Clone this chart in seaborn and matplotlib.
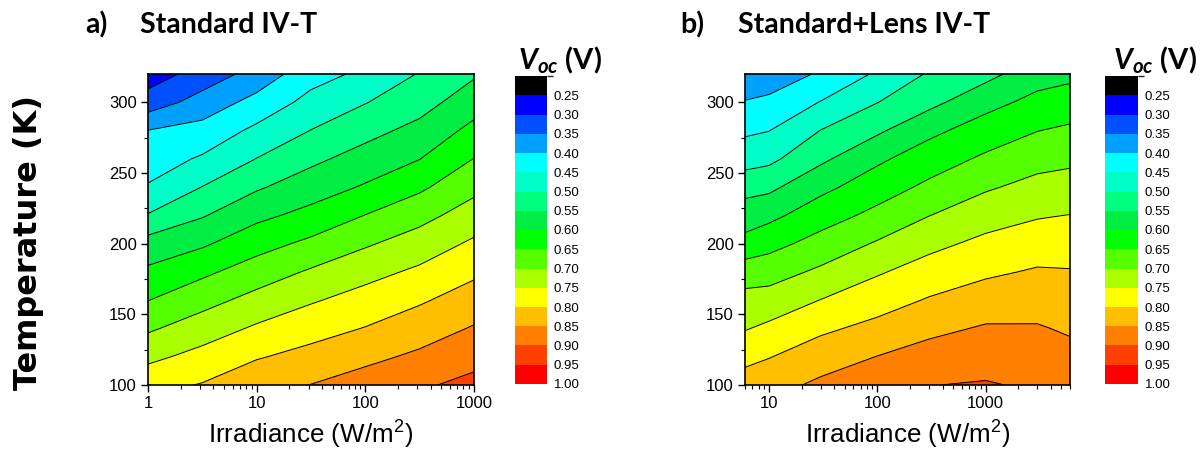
import numpy as np
import matplotlib
matplotlib.use("Agg")
import matplotlib.pyplot as plt
import seaborn as sns
from matplotlib.colors import ListedColormap, BoundaryNorm
from matplotlib.ticker import FixedLocator, FuncFormatter

# ---------------- data ----------------
temps = [100, 120, 140, 160, 180, 200, 220, 240, 260, 280, 300, 320]

irr_a = [1, 3.16, 10, 31.6, 100, 316, 1000]
voc_a = [
    [0.784, 0.803, 0.834, 0.851, 0.872, 0.893, 0.914],
    [0.738, 0.766, 0.796, 0.816, 0.838, 0.859, 0.884],
    [0.693, 0.725, 0.757, 0.781, 0.802, 0.827, 0.854],
    [0.649, 0.683, 0.716, 0.745, 0.769, 0.794, 0.823],
    [0.609, 0.640, 0.674, 0.706, 0.734, 0.759, 0.791],
    [0.570, 0.593, 0.631, 0.661, 0.694, 0.723, 0.758],
    [0.503, 0.546, 0.588, 0.615, 0.651, 0.684, 0.723],
    [0.454, 0.501, 0.544, 0.576, 0.605, 0.641, 0.687],
    [0.426, 0.456, 0.501, 0.539, 0.570, 0.599, 0.651],
    [0.401, 0.417, 0.461, 0.501, 0.534, 0.565, 0.614],
    [0.322, 0.371, 0.416, 0.466, 0.498, 0.530, 0.578],
    [0.275, 0.320, 0.369, 0.430, 0.461, 0.503, 0.544],
]

irr_b = [6, 10, 30, 100, 300, 1000, 3000, 6000]
voc_b = [
    [0.825, 0.832, 0.860, 0.887, 0.899, 0.904, 0.893, 0.886],
    [0.785, 0.798, 0.826, 0.851, 0.870, 0.879, 0.873, 0.865],
    [0.747, 0.760, 0.791, 0.814, 0.838, 0.855, 0.854, 0.844],
    [0.716, 0.721, 0.751, 0.779, 0.804, 0.824, 0.830, 0.823],
    [0.677, 0.679, 0.709, 0.745, 0.771, 0.792, 0.805, 0.803],
    [0.616, 0.634, 0.668, 0.705, 0.737, 0.762, 0.776, 0.777],
    [0.575, 0.587, 0.628, 0.663, 0.699, 0.729, 0.746, 0.751],
    [0.533, 0.539, 0.587, 0.627, 0.660, 0.694, 0.715, 0.720],
    [0.478, 0.488, 0.540, 0.591, 0.626, 0.658, 0.683, 0.690],
    [0.442, 0.449, 0.501, 0.542, 0.588, 0.623, 0.649, 0.658],
    [0.404, 0.411, 0.452, 0.499, 0.536, 0.584, 0.614, 0.624],
    [0.348, 0.371, 0.406, 0.457, 0.505, 0.535, 0.579, 0.588],
]

levels = [0.20, 0.25, 0.30, 0.35, 0.40, 0.45, 0.50, 0.55, 0.60,
          0.65, 0.70, 0.75, 0.80, 0.85, 0.90, 0.95, 1.00]
band_colors = ["#000000", "#0000FF", "#0050FF", "#00A0FF", "#00FFFF",
               "#00FFC8", "#00FF80", "#00EE44", "#00FF00", "#55FF00",
               "#AAFF00", "#FFFF00", "#FFBF00", "#FF8000", "#FF4000",
               "#FF0000"]
cbar_ticks = [0.25, 0.30, 0.35, 0.40, 0.45, 0.50, 0.55, 0.60, 0.65,
              0.70, 0.75, 0.80, 0.85, 0.90, 0.95, 1.00]
ytick_vals = [100, 150, 200, 250, 300]

titles = [("a)", "Standard IV-T"), ("b)", "Standard+Lens IV-T")]
xlabel = "Irradiance (W/m$^2$)"
ylabel = "Temperature (K)"

# ---------------- style ----------------
sns.set_theme(style="ticks")
plt.rcParams["font.family"] = ["Liberation Sans", "DejaVu Sans"]
plt.rcParams["mathtext.fontset"] = "custom"
plt.rcParams["mathtext.rm"] = "Liberation Sans"
plt.rcParams["mathtext.bfit"] = "Lato:italic:bold"
plt.rcParams["axes.linewidth"] = 1.0

W, H = 1203, 454
fig = plt.figure(figsize=(W / 100, H / 100), dpi=100)

cmap = ListedColormap(band_colors)
norm = BoundaryNorm(levels, cmap.N)


def px_axes(x0, y0, x1, y1):
    return fig.add_axes([x0 / W, 1 - y1 / H, (x1 - x0) / W, (y1 - y0) / H])


def panel(ax, irr, voc, xlim):
    lx = np.log10(np.array(irr, dtype=float))
    V = np.array(voc)
    T = np.array(temps)
    ax.contourf(lx, T, V, levels=levels, cmap=cmap, norm=norm)
    ax.contour(lx, T, V, levels=levels[1:-1], colors="black",
               linewidths=0.7)
    ax.set_xlim(np.log10(xlim[0]), np.log10(xlim[1]))
    ax.set_ylim(100, 320)
    ax.yaxis.set_major_locator(FixedLocator(ytick_vals))
    ax.yaxis.set_minor_locator(FixedLocator([v + 25 for v in ytick_vals]))
    majors = [d for d in range(0, 5)]
    ax.xaxis.set_major_locator(FixedLocator(majors))
    minors = [np.log10(k * 10 ** d) for d in range(0, 4) for k in range(2, 10)]
    ax.xaxis.set_minor_locator(FixedLocator(minors))
    ax.xaxis.set_major_formatter(FuncFormatter(lambda v, p: f"{10 ** v:g}"))
    ax.tick_params(which="major", direction="out", length=5, width=1,
                   labelsize=12, colors="black", pad=3)
    ax.tick_params(which="minor", direction="out", length=3, width=0.8,
                   colors="black")
    ax.tick_params(top=False, right=False)
    for s in ax.spines.values():
        s.set_color("black")
        s.set_linewidth(1.2)
    ax.set_xlabel(xlabel, fontsize=18.7, color="black", labelpad=4)


ax_a = px_axes(148, 74, 474, 385)
panel(ax_a, irr_a, voc_a, (1, 1000))
fig.text(29 / W, 1 - 242 / H, ylabel, fontsize=23, fontweight="bold",
         family="DejaVu Sans", rotation=90, ha="center", va="center",
         color="black")

ax_b = px_axes(745, 74, 1070, 385)
panel(ax_b, irr_b, voc_b, (6, 6000))


def colorbar(x0, x1, title_x):
    cax = px_axes(x0, 76, x1, 384)
    sm = plt.cm.ScalarMappable(cmap=cmap, norm=norm)
    cb = fig.colorbar(sm, cax=cax, boundaries=levels, ticks=cbar_ticks,
                      spacing="uniform")
    cb.outline.set_visible(False)
    cax.invert_yaxis()
    cax.set_yticklabels([f"{t:.2f}" for t in cbar_ticks])
    cax.tick_params(length=0, labelsize=9.5, pad=5, colors="black")
    fig.text(title_x / W, 1 - 60 / H,
             r"$\mathbfit{V}_{\mathbfit{oc}}$ (V)", fontsize=21,
             fontweight="bold", family="Lato", ha="center", va="center",
             color="black")


colorbar(515, 547, 560)
colorbar(1105, 1138, 1155)

for (lab, tit), (xl, xt) in zip(titles, [(85, 140), (680, 738)]):
    fig.text(xl / W, 1 - 25 / H, lab, fontsize=20.5, fontweight="bold",
             family="Lato", ha="left", va="center", color="black")
    fig.text(xt / W, 1 - 25 / H, tit, fontsize=20.5, fontweight="bold",
             family="Lato", ha="left", va="center", color="black")

fig.savefig("out.png", dpi=100)
